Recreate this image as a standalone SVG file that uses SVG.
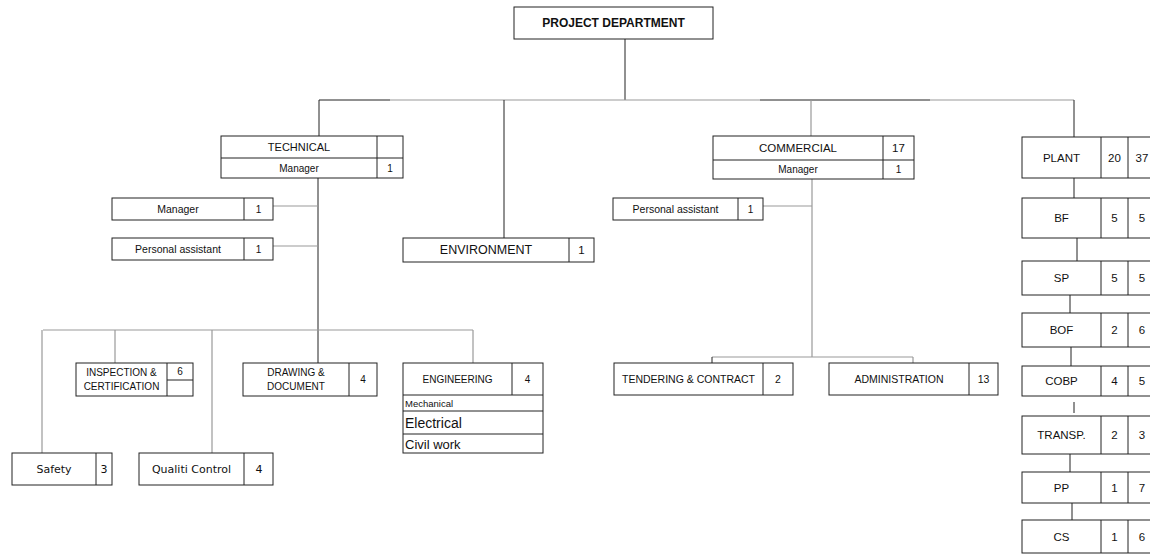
<svg xmlns="http://www.w3.org/2000/svg" width="1150" height="554" viewBox="0 0 1150 554">
<style>
.box{fill:#fff;stroke:#222;stroke-width:1}
.div{stroke:#222;stroke-width:1;fill:none}
.c{stroke:#222;stroke-width:1;fill:none}
.g{stroke:#999;stroke-width:1.2;fill:none}
text{font-family:"Liberation Sans",Arial,sans-serif;fill:#111;text-anchor:middle;dominant-baseline:central}
.s10{font-size:10px}
.s105{font-size:10.5px}
.s11{font-size:11px}
.s115{font-size:11.5px}
.s125{font-size:12.5px}
.dv{font-family:"DejaVu Sans",sans-serif;font-size:11px}
.l{text-anchor:start}
</style>
<rect width="1150" height="554" fill="#fff"/>
<g id="connectors">
<line class="c" x1="625" y1="39" x2="625" y2="100"/>
<line class="c" x1="319" y1="100" x2="390" y2="100"/>
<line class="g" x1="390" y1="100" x2="760" y2="100"/>
<line class="c" x1="760" y1="100" x2="930" y2="100"/>
<line class="g" x1="930" y1="100" x2="1074" y2="100"/>
<line class="c" x1="319" y1="100" x2="319" y2="136"/>
<line class="c" x1="504" y1="100" x2="504" y2="238"/>
<line class="g" x1="811" y1="100" x2="811" y2="136"/>
<line class="c" x1="1074" y1="100" x2="1074" y2="137"/>
<line class="c" x1="318" y1="178" x2="318" y2="363"/>
<line class="g" x1="273" y1="206" x2="318" y2="206"/>
<line class="g" x1="273" y1="246" x2="318" y2="246"/>
<line class="g" x1="43" y1="330" x2="473" y2="330"/>
<line class="g" x1="42" y1="330" x2="42" y2="453"/>
<line class="g" x1="115" y1="330" x2="115" y2="363"/>
<line class="g" x1="212" y1="330" x2="212" y2="453"/>
<line class="g" x1="473" y1="330" x2="473" y2="363"/>
<line class="g" x1="812" y1="179" x2="812" y2="357"/>
<line class="g" x1="763" y1="206" x2="812" y2="206"/>
<line class="g" x1="712" y1="357" x2="913" y2="357"/>
<line class="c" x1="712" y1="357" x2="712" y2="363"/>
<line class="g" x1="913" y1="357" x2="913" y2="363"/>
<line class="c" x1="1074" y1="178" x2="1074" y2="198"/>
<line class="c" x1="1077" y1="238" x2="1077" y2="261"/>
<line class="c" x1="1070" y1="295" x2="1070" y2="313"/>
<line class="c" x1="1071" y1="347" x2="1071" y2="366"/>
<line class="c" x1="1074" y1="402" x2="1074" y2="413"/>
<line class="c" x1="1070" y1="454" x2="1070" y2="472"/>
<line class="c" x1="1072" y1="503" x2="1072" y2="520"/>
</g>
<g id="project-department">
<rect class="box" x="514" y="7" width="199" height="32"/>
<text x="613.5" y="23" style="font-size:12px;font-weight:bold">PROJECT DEPARTMENT</text>
</g>
<g id="technical">
<rect class="box" x="221" y="136" width="182" height="42"/>
<line class="div" x1="221" y1="158" x2="403" y2="158"/>
<line class="div" x1="377" y1="136" x2="377" y2="178"/>
<text class="s11" x="299" y="147">TECHNICAL</text>
<text class="s10" x="299" y="168">Manager</text>
<text class="s10" x="390" y="168">1</text>
</g>
<g id="tech-manager">
<rect class="box" x="112" y="198" width="161" height="22"/>
<line class="div" x1="244" y1="198" x2="244" y2="220"/>
<text class="s105" x="178" y="209">Manager</text>
<text class="s10" x="258.5" y="209">1</text>
</g>
<g id="tech-pa">
<rect class="box" x="112" y="238" width="161" height="22"/>
<line class="div" x1="244" y1="238" x2="244" y2="260"/>
<text class="s105" x="178" y="249">Personal assistant</text>
<text class="s10" x="258.5" y="249">1</text>
</g>
<g id="environment">
<rect class="box" x="403" y="238" width="191" height="24"/>
<line class="div" x1="569" y1="238" x2="569" y2="262"/>
<text class="s125" x="486" y="250">ENVIRONMENT</text>
<text class="s115" x="581.5" y="250">1</text>
</g>
<g id="commercial">
<rect class="box" x="713" y="136" width="201" height="43"/>
<line class="div" x1="713" y1="160" x2="914" y2="160"/>
<line class="div" x1="883" y1="136" x2="883" y2="179"/>
<text class="s115" x="798" y="148">COMMERCIAL</text>
<text class="s115" x="898.5" y="148">17</text>
<text class="s10" x="798" y="169.5">Manager</text>
<text class="s10" x="898.5" y="169.5">1</text>
</g>
<g id="comm-pa">
<rect class="box" x="613" y="198" width="150" height="22"/>
<line class="div" x1="738" y1="198" x2="738" y2="220"/>
<text class="s105" x="675.5" y="209">Personal assistant</text>
<text class="s10" x="750.5" y="209">1</text>
</g>
<g id="inspection">
<rect class="box" x="76" y="363" width="117" height="33"/>
<line class="div" x1="167" y1="363" x2="167" y2="396"/>
<line class="div" x1="167" y1="380" x2="193" y2="380"/>
<text class="s10" x="121.5" y="372">INSPECTION &amp;</text>
<text class="s10" x="121.5" y="386">CERTIFICATION</text>
<text class="s10" x="180" y="371.5">6</text>
</g>
<g id="drawing">
<rect class="box" x="243" y="363" width="134" height="33"/>
<line class="div" x1="349" y1="363" x2="349" y2="396"/>
<text class="s10" x="296" y="372">DRAWING &amp;</text>
<text class="s10" x="296" y="386">DOCUMENT</text>
<text class="s10" x="363" y="379.5">4</text>
</g>
<g id="engineering">
<rect class="box" x="403" y="363" width="140" height="90"/>
<line class="div" x1="512" y1="363" x2="512" y2="395"/>
<line class="div" x1="403" y1="395" x2="543" y2="395"/>
<line class="div" x1="403" y1="411" x2="543" y2="411"/>
<line class="div" x1="403" y1="434" x2="543" y2="434"/>
<text class="s10" x="457.5" y="379.5">ENGINEERING</text>
<text class="s10" x="527.5" y="379.5">4</text>
<text class="l" x="405" y="403.5" style="font-size:9.5px">Mechanical</text>
<text class="l" x="405" y="423" style="font-size:14px">Electrical</text>
<text class="l" x="405" y="444" style="font-size:13px">Civil work</text>
</g>
<g id="safety">
<rect class="box" x="12" y="453" width="100" height="32"/>
<line class="div" x1="96" y1="453" x2="96" y2="485"/>
<text class="dv" x="54" y="469">Safety</text>
<text class="dv" x="104" y="469">3</text>
</g>
<g id="quality-control">
<rect class="box" x="139" y="453" width="134" height="32"/>
<line class="div" x1="244" y1="453" x2="244" y2="485"/>
<text class="dv" x="191.5" y="469">Qualiti Control</text>
<text class="dv" x="259" y="469">4</text>
</g>
<g id="tendering">
<rect class="box" x="614" y="363" width="179" height="32"/>
<line class="div" x1="763" y1="363" x2="763" y2="395"/>
<text class="s105" x="688.5" y="379">TENDERING &amp; CONTRACT</text>
<text class="s105" x="778" y="379">2</text>
</g>
<g id="administration">
<rect class="box" x="829" y="363" width="169" height="32"/>
<line class="div" x1="969" y1="363" x2="969" y2="395"/>
<text class="s105" x="899" y="379">ADMINISTRATION</text>
<text class="s105" x="983.5" y="379">13</text>
</g>
<g id="plant">
<rect class="box" x="1022" y="137" width="140" height="41"/>
<line class="div" x1="1101" y1="137" x2="1101" y2="178"/>
<line class="div" x1="1128" y1="137" x2="1128" y2="178"/>
<text class="s115" x="1061.5" y="157.5">PLANT</text>
<text class="s115" x="1114.5" y="157.5">20</text>
<text class="s115" x="1142" y="157.5">37</text>
</g>
<g id="bf">
<rect class="box" x="1022" y="198" width="140" height="40"/>
<line class="div" x1="1101" y1="198" x2="1101" y2="238"/>
<line class="div" x1="1128" y1="198" x2="1128" y2="238"/>
<text class="s115" x="1061.5" y="218">BF</text>
<text class="s115" x="1114.5" y="218">5</text>
<text class="s115" x="1142" y="218">5</text>
</g>
<g id="sp">
<rect class="box" x="1022" y="261" width="140" height="34"/>
<line class="div" x1="1101" y1="261" x2="1101" y2="295"/>
<line class="div" x1="1128" y1="261" x2="1128" y2="295"/>
<text class="s115" x="1061.5" y="278">SP</text>
<text class="s115" x="1114.5" y="278">5</text>
<text class="s115" x="1142" y="278">5</text>
</g>
<g id="bof">
<rect class="box" x="1022" y="313" width="140" height="34"/>
<line class="div" x1="1101" y1="313" x2="1101" y2="347"/>
<line class="div" x1="1128" y1="313" x2="1128" y2="347"/>
<text class="s115" x="1061.5" y="330">BOF</text>
<text class="s115" x="1114.5" y="330">2</text>
<text class="s115" x="1142" y="330">6</text>
</g>
<g id="cobp">
<rect class="box" x="1022" y="366" width="140" height="30"/>
<line class="div" x1="1101" y1="366" x2="1101" y2="396"/>
<line class="div" x1="1128" y1="366" x2="1128" y2="396"/>
<text class="s115" x="1061.5" y="381">COBP</text>
<text class="s115" x="1114.5" y="381">4</text>
<text class="s115" x="1142" y="381">5</text>
</g>
<g id="transp">
<rect class="box" x="1022" y="416" width="140" height="38"/>
<line class="div" x1="1101" y1="416" x2="1101" y2="454"/>
<line class="div" x1="1128" y1="416" x2="1128" y2="454"/>
<text class="s115" x="1061.5" y="435">TRANSP.</text>
<text class="s115" x="1114.5" y="435">2</text>
<text class="s115" x="1142" y="435">3</text>
</g>
<g id="pp">
<rect class="box" x="1022" y="472" width="140" height="31"/>
<line class="div" x1="1101" y1="472" x2="1101" y2="503"/>
<line class="div" x1="1128" y1="472" x2="1128" y2="503"/>
<text class="s115" x="1061.5" y="487.5">PP</text>
<text class="s115" x="1114.5" y="487.5">1</text>
<text class="s115" x="1142" y="487.5">7</text>
</g>
<g id="cs">
<rect class="box" x="1022" y="520" width="140" height="33"/>
<line class="div" x1="1101" y1="520" x2="1101" y2="553"/>
<line class="div" x1="1128" y1="520" x2="1128" y2="553"/>
<text class="s115" x="1061.5" y="536.5">CS</text>
<text class="s115" x="1114.5" y="536.5">1</text>
<text class="s115" x="1142" y="536.5">6</text>
</g>
</svg>
